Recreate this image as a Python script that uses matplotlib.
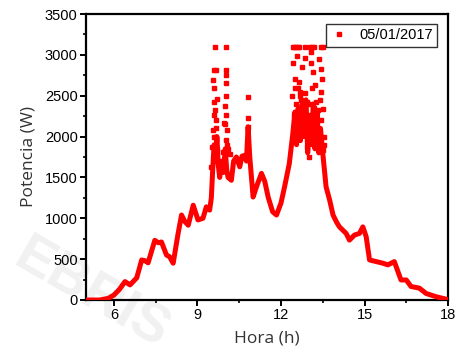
import matplotlib
matplotlib.use("Agg")
import matplotlib.pyplot as plt
from matplotlib.ticker import MultipleLocator

# Curva principal de potencia (hora, W)
hora = [5.0, 5.5, 5.8, 6.0, 6.2, 6.4, 6.58, 6.82, 7.0, 7.12, 7.23, 7.47, 7.6, 7.71,
        7.89, 8.0, 8.13, 8.3, 8.43, 8.55, 8.67, 8.85, 9.02, 9.2, 9.32, 9.44, 9.5,
        9.55, 9.6, 9.65, 9.7, 9.75, 9.8, 9.87, 9.93, 10.0, 10.05, 10.1, 10.22, 10.3,
        10.4, 10.52, 10.6, 10.7, 10.76, 10.82, 10.88, 11.0, 11.12, 11.3, 11.42, 11.54,
        11.7, 11.84, 12.0, 12.13, 12.3, 12.43, 12.5, 12.56, 12.62, 12.7, 12.76, 12.82,
        12.9, 12.96, 13.02, 13.1, 13.16, 13.22, 13.3, 13.36, 13.42, 13.5, 13.62, 13.75,
        13.87, 14.0, 14.1, 14.34, 14.46, 14.64, 14.82, 14.94, 15.06, 15.18, 15.42,
        15.66, 15.84, 16.07, 16.31, 16.5, 16.67, 16.97, 17.21, 17.57, 17.93, 18.0]
potencia = [0, 0, 20, 60, 130, 225, 185, 270, 490, 480, 455, 730, 700, 710,
            550, 530, 450, 800, 1040, 960, 915, 1160, 980, 1000, 1140, 1100, 1250,
            1600, 1900, 1700, 2000, 1650, 1500, 1700, 1560, 1850, 1600, 1500, 1465, 1700,
            1750, 1630, 1760, 1770, 1700, 2120, 1750, 1260, 1385, 1550, 1450, 1260,
            1080, 1040, 1185, 1385, 1670, 2050, 2300, 1900, 2350, 1950, 2400, 2000,
            2450, 1800, 2250, 1900, 2400, 1850, 2300, 1800, 2100, 1800, 1385, 1220,
            1040, 950, 895, 815, 733, 795, 815, 895, 775, 490, 470,
            450, 430, 470, 245, 245, 165, 145, 80, 40, 10, 0]

# Puntos dispersos en los picos de mediodia
pico_hora = [9.62, 10.04, 9.61, 9.66, 10.02, 9.56, 10.04, 9.6, 10.04, 9.71, 9.59, 10.04,
             9.62, 9.98, 9.6, 10.04, 9.66, 9.96, 9.56, 10.06, 9.62, 10.02, 9.54, 10.1,
             9.5, 9.92, 10.16, 10.8, 10.8, 10.82, 9.58, 9.68, 9.64, 10.0, 10.08, 9.72,
             12.42, 12.48, 12.54, 12.6, 12.66, 12.85, 13.03, 13.1, 13.2, 13.45, 13.52,
             12.57, 12.85, 13.09, 13.09, 13.45, 12.49, 12.64, 13.14, 13.48, 12.6, 12.69,
             12.88, 13.21, 13.45, 12.73, 12.93, 13.26, 12.46, 12.67, 12.85, 13.03, 13.32,
             13.5, 12.73, 12.97, 13.21, 12.79, 13.03, 13.26, 12.93, 13.32, 13.0, 13.5,
             12.44, 12.52, 13.38, 12.75, 13.12, 12.4, 12.55, 12.62, 12.8, 12.99, 13.17,
             13.28, 13.4, 13.55, 12.5, 12.7, 12.9, 13.06, 13.24, 13.42, 12.47, 13.56]
pico_pot = [3100, 3100, 2820, 2820, 2820, 2690, 2750, 2590, 2650, 2465, 2425, 2500,
            2320, 2380, 2260, 2260, 2200, 2160, 2080, 2080, 1990, 1955, 1870, 1850,
            1630, 1810, 1790, 2480, 2230, 2120, 2000, 2100, 1800, 2150, 1900, 1850,
            3100, 3100, 3100, 3100, 3100, 3100, 3100, 3100, 3100, 3100, 3100,
            2990, 2960, 3030, 2900, 2830, 2710, 2670, 2790, 2700, 2590, 2545,
            2530, 2630, 2545, 2445, 2425, 2425, 2260, 2320, 2280, 2260, 2320,
            2340, 2180, 2120, 2160, 2035, 1995, 2080, 1875, 1915, 1750, 1835,
            2900, 2600, 2950, 2850, 2600, 2500, 2400, 2150, 2250, 2400, 2350,
            2200, 2450, 2000, 2050, 2500, 2150, 2050, 1950, 2200, 1950, 1900]

fig = plt.figure(figsize=(4.56, 3.6), dpi=100)
ax = fig.add_axes([0.1886, 0.1667, 0.794, 0.7944])
ax.patch.set_alpha(0)

# marca de agua de fondo, detras de los ejes
ax.text(0.01, 0.035, "EBRIS", transform=fig.transFigure, fontsize=40,
        fontweight="bold", color="#f1f1f1", rotation=-30,
        fontfamily="Liberation Sans", zorder=0, clip_on=False)

red = "#ff0000"
ax.plot(hora, potencia, '-', color=red, lw=3.6, solid_joinstyle="round", zorder=3)
ax.plot(pico_hora, pico_pot, 's', color=red, ms=3.2, mec=red, zorder=3)
ax.plot([], [], 's', color=red, ms=3.2, label="05/01/2017")

ax.set_xlim(5, 18)
ax.set_ylim(0, 3500)
ax.xaxis.set_major_locator(MultipleLocator(3))
ax.xaxis.set_minor_locator(MultipleLocator(1.5))
ax.yaxis.set_major_locator(MultipleLocator(500))
ax.yaxis.set_minor_locator(MultipleLocator(250))

for s in ax.spines.values():
    s.set_linewidth(1.6)
ax.tick_params(which="major", direction="out", length=4, width=1.4, labelsize=10.5,
               pad=2)
ax.tick_params(which="minor", direction="out", length=2.5, width=1.2)
for lab in ax.get_xticklabels() + ax.get_yticklabels():
    lab.set_fontfamily("Liberation Sans")

ax.set_xlabel("Hora (h)", fontsize=12.5, fontfamily="Open Sans", color="#333333",
              labelpad=6)
ax.set_ylabel("Potencia (W)", fontsize=12.5, fontfamily="Open Sans", color="#333333",
              labelpad=6)

leg = ax.legend(loc="upper right", bbox_to_anchor=(0.97, 0.965), borderaxespad=0,
                frameon=True, fancybox=False, handlelength=1.2, borderpad=0.3,
                prop={"family": "Liberation Sans", "size": 10.5})
leg.get_frame().set_edgecolor("black")
leg.get_frame().set_linewidth(1.0)

fig.savefig("out.png", dpi=100)
